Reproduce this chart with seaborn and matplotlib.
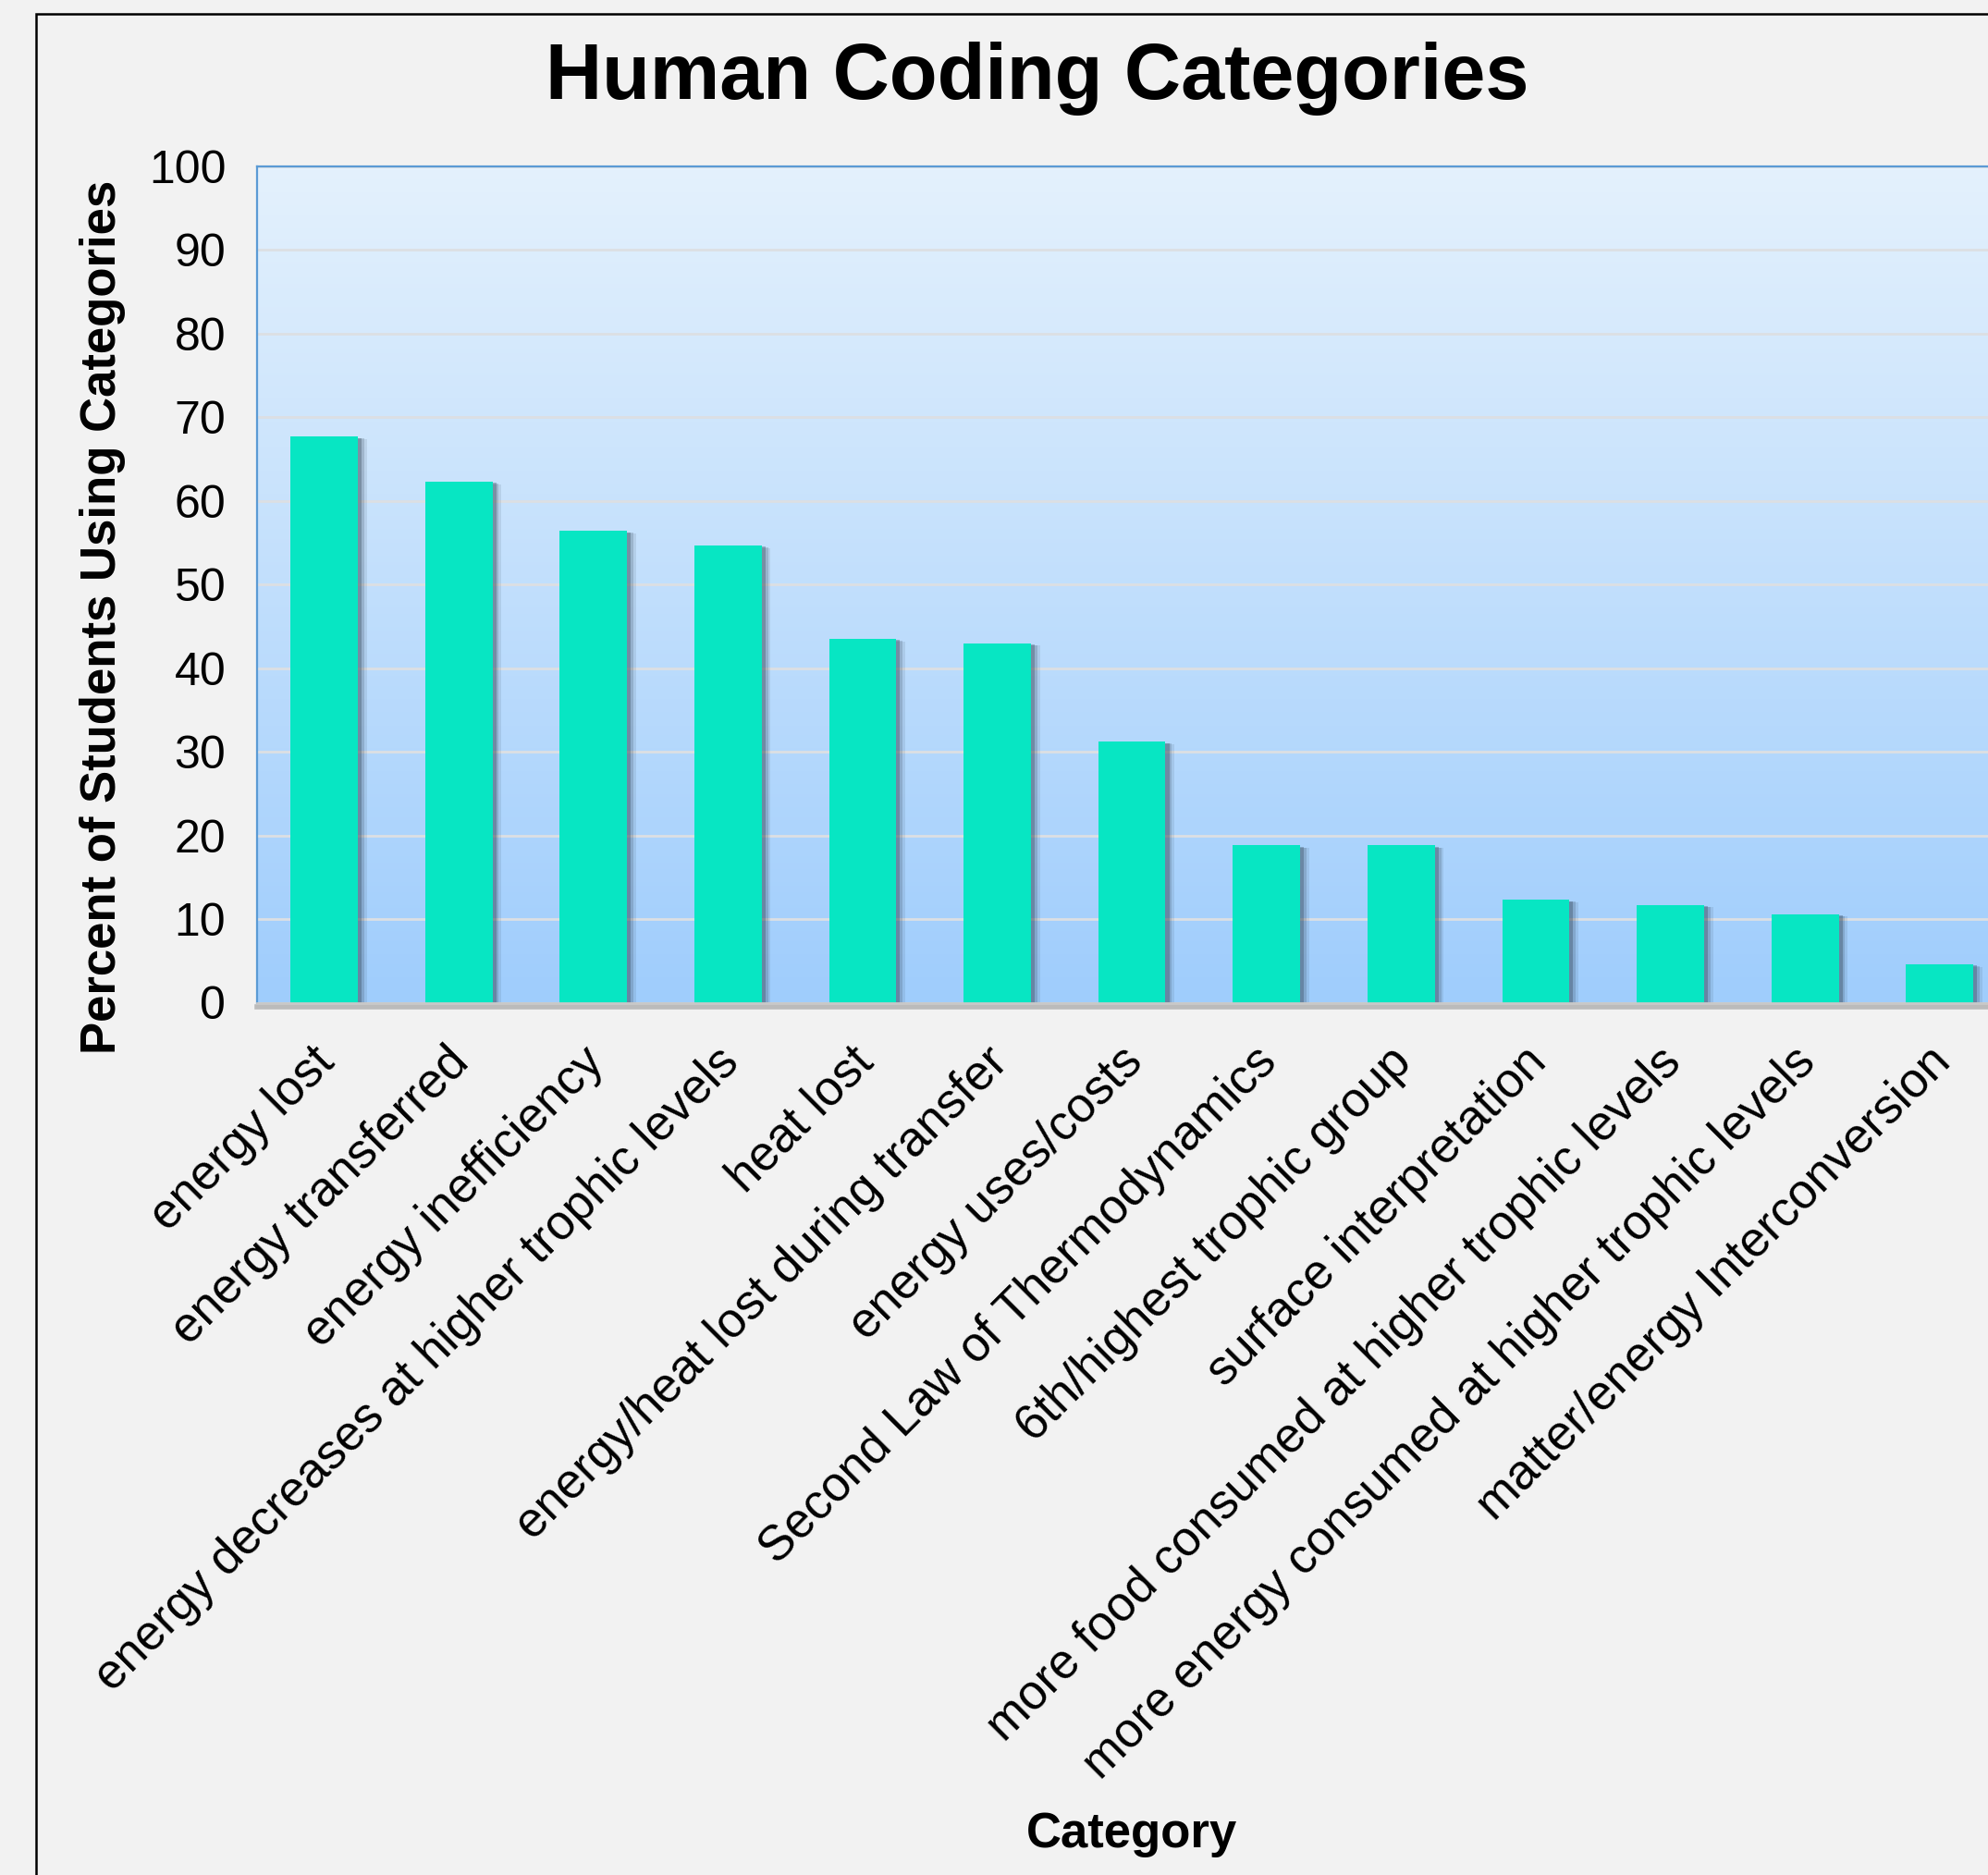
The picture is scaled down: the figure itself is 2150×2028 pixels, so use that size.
import numpy as np
import matplotlib
matplotlib.use("Agg")
import matplotlib.pyplot as plt
import matplotlib.patheffects as pe
import matplotlib.transforms as mtransforms
from matplotlib.colors import LinearSegmentedColormap
from matplotlib.patches import Rectangle
import seaborn as sns

# data
categories = [
    "energy lost",
    "energy transferred",
    "energy inefficiency",
    "energy decreases at higher trophic levels",
    "heat lost",
    "energy/heat lost during transfer",
    "energy uses/costs",
    "Second Law of Thermodynamics",
    "6th/highest trophic group",
    "surface interpretation",
    "more food consumed at higher trophic levels",
    "more energy consumed at higher trophic levels",
    "matter/energy Interconversion",
]
percent = [67.7, 62.3, 56.4, 54.7, 43.5, 43.0, 31.2, 18.8, 18.8, 12.3, 11.7, 10.6, 4.6]
y_ticks = list(range(0, 101, 10))

sns.set_style("white")
plt.rcParams["font.family"] = ["Liberation Sans", "DejaVu Sans"]
plt.rcParams["text.color"] = "black"
plt.rcParams["xtick.color"] = "black"
plt.rcParams["ytick.color"] = "black"

W, H = 2150, 2028
fig = plt.figure(figsize=(W / 100, H / 100), dpi=100, facecolor="#F2F2F2")

# plot area: left edge at 278px, top 180px, bottom 1084px; runs past the right edge
left, top, bottom = 277.7, 180.0, 1084.5
cat_w = 145.6
ax = fig.add_axes([left / W, 1 - bottom / H, 13 * cat_w / W, (bottom - top) / H])

# gradient background of the plot area
grad = LinearSegmentedColormap.from_list("bg", ["#9FCDFC", "#E4F1FD"])
ax.imshow(np.linspace(0, 1, 256).reshape(-1, 1), cmap=grad, origin="lower",
          extent=(0, 1, 0, 1), transform=ax.transAxes, aspect="auto", zorder=0)

sns.barplot(x=categories, y=percent, color="#07E6C3", saturation=1, width=0.5,
            ax=ax, zorder=2)

# soft drop shadow on the bars
shadow = [
    pe.SimplePatchShadow(offset=(7, -2), shadow_rgbFace="#2a3a4a", alpha=0.10),
    pe.SimplePatchShadow(offset=(5, -1.5), shadow_rgbFace="#2a3a4a", alpha=0.18),
    pe.SimplePatchShadow(offset=(3, -1), shadow_rgbFace="#2a3a4a", alpha=0.30),
    pe.Normal(),
]
for bar in ax.patches:
    bar.set_path_effects(shadow)
    bar.set_edgecolor("none")

ax.set_xlim(-0.5, 12.5)
ax.set_ylim(0, 100)
ax.set_yticks(y_ticks)
ax.set_autoscale_on(False)

ax.set_axisbelow(True)
ax.yaxis.grid(True, color="#DCDFE3", linewidth=2)
ax.xaxis.grid(False)

for side in ["left", "top", "right"]:
    ax.spines[side].set_color("#5B9BD5")
    ax.spines[side].set_linewidth(1.6)
ax.spines["bottom"].set_color("#C8C8C8")
ax.spines["bottom"].set_linewidth(2)
ax.spines["bottom"].set_path_effects(
    [pe.SimpleLineShadow(offset=(0, -3), shadow_color="#555555", alpha=0.35, linewidth=4),
     pe.Normal()])

ax.tick_params(axis="both", length=0)
ax.tick_params(axis="y", labelsize=36, pad=24)
ax.tick_params(axis="x", labelsize=38, pad=28)
shift = mtransforms.ScaledTranslation(-0.14, 0, fig.dpi_scale_trans)
for lab in ax.get_xticklabels():
    lab.set_rotation(45)
    lab.set_ha("right")
    lab.set_va("top")
    lab.set_rotation_mode("anchor")
    lab.set_transform(lab.get_transform() + shift)
ax.set_xlabel("")
ax.set_ylabel("")

fig.text(1122 / W, 1 - 85 / H, "Human Coding Categories", ha="center", va="center",
         fontsize=61, fontweight="bold")
fig.text(111 / W, 1 - 667 / H, "Percent of Students Using Categories", rotation=90,
         ha="center", va="center", fontsize=38, fontweight="bold")
fig.text(1224 / W, 1 - 1984 / H, "Category", ha="center", va="center",
         fontsize=38, fontweight="bold")

# outer chart border (only left and top visible in the crop)
fig.patches.append(Rectangle((39 / W, -0.1), 2, 1.1 - 14.7 / H, transform=fig.transFigure,
                             fill=False, edgecolor="black", linewidth=1.8))

fig.savefig("out.png", dpi=100, facecolor=fig.get_facecolor())
